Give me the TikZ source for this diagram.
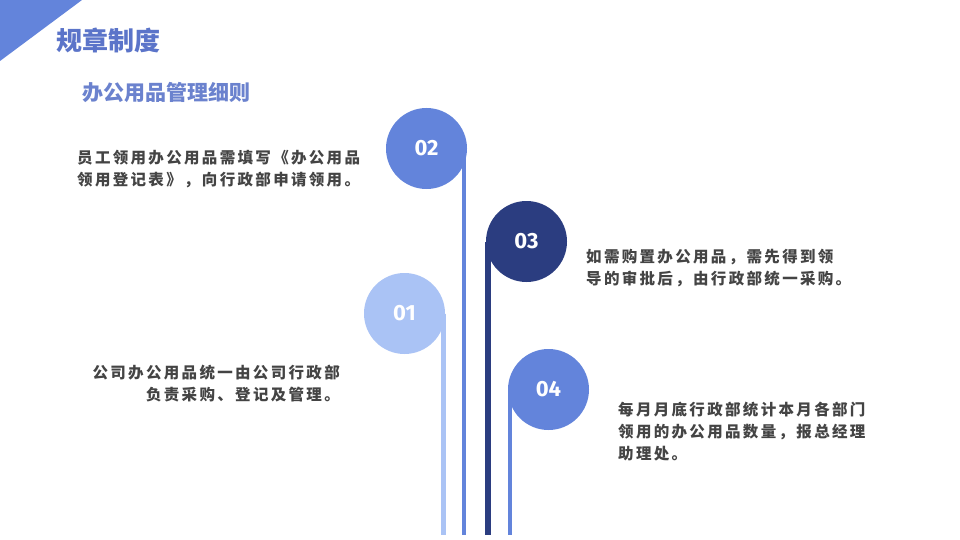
\documentclass[tikz,border=0pt]{standalone}
\usepackage{fontspec}
\newfontfamily\cjk[LetterSpace=15]{Noto Sans CJK SC}
\newfontfamily\cjkhead{Noto Sans CJK SC}
\newfontfamily\numfont{Fira Sans}
\usetikzlibrary{positioning}

\definecolor{midblue}{HTML}{6384DB}
\definecolor{darkblue}{HTML}{2B3D80}
\definecolor{paleblue}{HTML}{AAC3F5}
\definecolor{headblue}{HTML}{5B74C9}
\definecolor{bodygray}{HTML}{444444}

\begin{document}
\begin{tikzpicture}[x=1pt,y=-1pt,
    stepcircle/.style={circle,minimum size=81pt,inner sep=0pt,text=white,font=\numfont\bfseries\fontsize{22}{22}\selectfont},
    stem/.style={line width=4.5pt},
    bodytext/.style={text=bodygray,inner sep=0pt,font=\cjk\bfseries\fontsize{15.5}{22}\selectfont}]
    \useasboundingbox[fill=white] (0,0) rectangle (960,540);

    % corner and headings
    \fill[midblue] (0,0) -- (82,0) -- (0,61) -- cycle;
    \node[anchor=west,inner sep=0pt,text=headblue,font=\cjkhead\bfseries\fontsize{26}{26}\selectfont] (title) at (56,40) {规章制度};
    \node[anchor=west,inner sep=0pt,text=headblue!90!white,font=\cjkhead\bfseries\fontsize{21}{21}\selectfont] (subtitle) at (82,93) {办公用品管理细则};

    % stems to the bottom edge
    \coordinate (b1) at (443.5,535);
    \coordinate (b2) at (464,535);
    \coordinate (b3) at (488,535);
    \coordinate (b4) at (510,535);

    \node[stepcircle,fill=paleblue] (c1) at (404.5,313.5) {01};
    \node[stepcircle,fill=midblue] (c2) at (426.5,148.5) {02};
    \node[stepcircle,fill=darkblue] (c3) at (526.5,241.5) {03};
    \node[stepcircle,fill=midblue] (c4) at (548.5,389.5) {04};

    \draw[stem,paleblue] (c1.center -| b1) -- (b1);
    \draw[stem,midblue] (c2.center -| b2) -- (b2);
    \draw[stem,darkblue,line width=5.5pt] (c3.center -| b3) -- (b3);
    \draw[stem,midblue] (c4.center -| b4) -- (b4);

    % texts
    \node[bodytext,anchor=west,align=left] (t2) at (77,169) {员工领用办公用品需填写《办公用品\\领用登记表》，向行政部申请领用。};
    \node[bodytext,anchor=west,align=left] (t3) at (586,268) {如需购置办公用品，需先得到领\\导的审批后，由行政部统一采购。};
    \node[bodytext,anchor=east,align=right] (t1) at (340,383.5) {公司办公用品统一由公司行政部\\负责采购、登记及管理。};
    \node[bodytext,anchor=west,align=left] (t4) at (618,432) {每月月底行政部统计本月各部门\\领用的办公用品数量，报总经理\\助理处。};
\end{tikzpicture}
\end{document}
